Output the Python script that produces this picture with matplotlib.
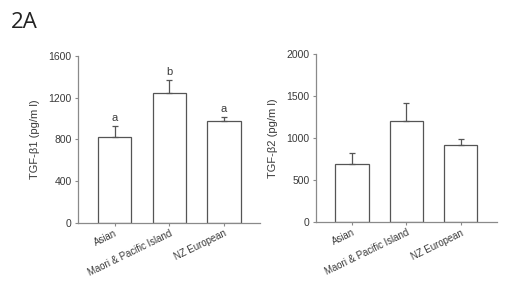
import matplotlib
matplotlib.use("Agg")
import matplotlib.pyplot as plt

categories = ["Asian", "Maori & Pacific Island", "NZ European"]
tgfb1_mean = [820, 1250, 980]
tgfb1_err = [110, 118, 35]
tgfb1_letters = ["a", "b", "a"]
tgfb2_mean = [690, 1200, 920]
tgfb2_err = [128, 222, 64]
tgfb1_ticks = [0, 400, 800, 1200, 1600]
tgfb2_ticks = [0, 500, 1000, 1500, 2000]

FONT = ["Liberation Sans Narrow", "Liberation Sans", "DejaVu Sans"]
plt.rcParams['font.family'] = FONT
AX = "#8a8a8a"
TXT = "#3a3a3a"

fig = plt.figure(figsize=(5.05, 2.91), dpi=100)

def panel(rect, means, errs, ticks, ylabel, letters=None):
    ax = fig.add_axes(rect)
    x = list(range(len(categories)))
    ax.bar(x, means, width=0.61, color="white", edgecolor="#555555", linewidth=0.9, zorder=2)
    ax.errorbar(x, means, yerr=[[0]*len(errs), errs], fmt="none", ecolor="#555555",
                elinewidth=0.9, capsize=2.5, capthick=0.9, zorder=3)
    ax.set_xlim(-0.67, 2.66)
    ax.set_ylim(ticks[0], ticks[-1])
    ax.set_yticks(ticks)
    ax.set_yticklabels([str(t) for t in ticks], fontsize=7.5, color=TXT)
    ax.set_xticks(x)
    ax.set_xticklabels(categories, fontsize=6.9, color=TXT, rotation=26,
                       ha="right", va="top", rotation_mode="anchor")
    for s in ["top", "right"]:
        ax.spines[s].set_visible(False)
    for s in ["left", "bottom"]:
        ax.spines[s].set_color(AX)
        ax.spines[s].set_linewidth(0.9)
    ax.tick_params(axis="both", direction="out", length=2.5, width=0.8, color=AX, pad=2)
    ax.tick_params(axis="x", pad=1.5)
    ax.set_ylabel(ylabel, fontsize=8, color=TXT, labelpad=6)
    if letters:
        for xi, m, e, l in zip(x, means, errs, letters):
            ax.text(xi, m + e + ticks[-1]*0.02, l, ha="center", va="bottom", fontsize=8, color=TXT)
    return ax

panel([0.1545, 0.2337, 0.3605, 0.5739], tgfb1_mean, tgfb1_err, tgfb1_ticks,
      "TGF-\u03b21 (pg/m l)", tgfb1_letters)
panel([0.625, 0.237, 0.3586, 0.5773], tgfb2_mean, tgfb2_err, tgfb2_ticks,
      "TGF-\u03b22 (pg/m l)")

fig.text(0.022, 0.96, "2A", fontsize=16, color="#222222", ha="left", va="top",
         family=["Open Sans", "DejaVu Sans"])

fig.savefig("out.png", dpi=100, facecolor="white")
